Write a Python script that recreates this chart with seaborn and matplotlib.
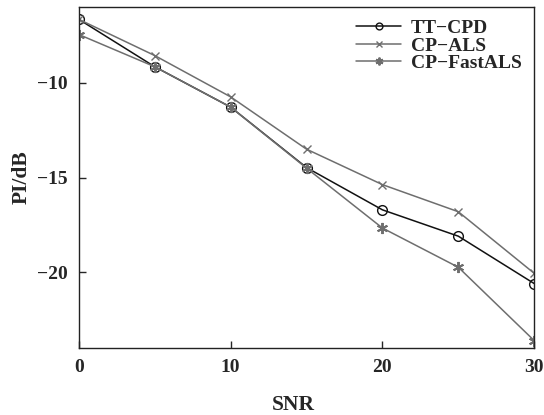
import numpy as np
import pandas as pd
import seaborn as sns
import matplotlib.pyplot as plt

# Data
snr = [0, 5, 10, 15, 20, 25, 30]
tt_cpd = [-6.65, -9.15, -11.28, -14.47, -16.7, -18.09, -20.59]
cp_als = [-6.65, -8.56, -10.74, -13.5, -15.37, -16.8, -20.05]
cp_fastals = [-7.45, -9.15, -11.28, -14.5, -17.66, -19.73, -23.6]
methods = ['TT\u2212CPD', 'CP\u2212ALS', 'CP\u2212FastALS']

sns.set_style('ticks')
plt.rcParams['font.family'] = ['Liberation Serif', 'DejaVu Serif']
plt.rcParams['font.weight'] = 'bold'

fig = plt.figure(figsize=(5.44, 4.15), dpi=100)
ax = fig.add_axes([0.145, 0.161, 0.837, 0.822])

# one call per series so filled and line-art markers can be mixed
styles = [
    (tt_cpd, '#111111', 'o', dict(markerfacecolor='none', markersize=7)),
    (cp_als, '#6e6e6e', 'x', dict(markersize=6)),
    (cp_fastals, '#6e6e6e', (6, 2, 0), dict(markersize=8, markeredgewidth=1.4)),
]
for (vals, color, mk, kw), name in zip(styles, methods):
    kw.setdefault('markeredgewidth', 1.0)
    sns.lineplot(x=snr, y=vals, color=color, marker=mk, label=name, ax=ax,
                 linewidth=1.1, markeredgecolor=color, **kw)

ax.set_xlim(0, 30)
ax.set_ylim(-24, -6)
ax.set_xticks([0, 10, 20, 30])
ax.set_yticks([-10, -15, -20])
ax.set_yticklabels(['\u221210', '\u221215', '\u221220'])
ax.tick_params(direction='in', length=5, labelsize=14, width=1, pad=8)
for lab in ax.get_xticklabels() + ax.get_yticklabels():
    lab.set_fontweight('bold')
for s in ax.spines.values():
    s.set_linewidth(1.0)
    s.set_color('#222222')

ax.set_xlabel('SNR', fontsize=15.5, fontweight='bold')
ax.set_ylabel('PI/dB', fontsize=15.5, fontweight='bold', labelpad=4)
ax.xaxis.set_label_coords(0.472, -0.138)

leg = ax.legend(loc='upper right', frameon=False, fontsize=14,
                handlelength=2.3, handletextpad=0.5, borderaxespad=0.25,
                labelspacing=-0.02, markerscale=0.7)
for t in leg.get_texts():
    t.set_fontweight('bold')

fig.savefig('out.png', dpi=100)
